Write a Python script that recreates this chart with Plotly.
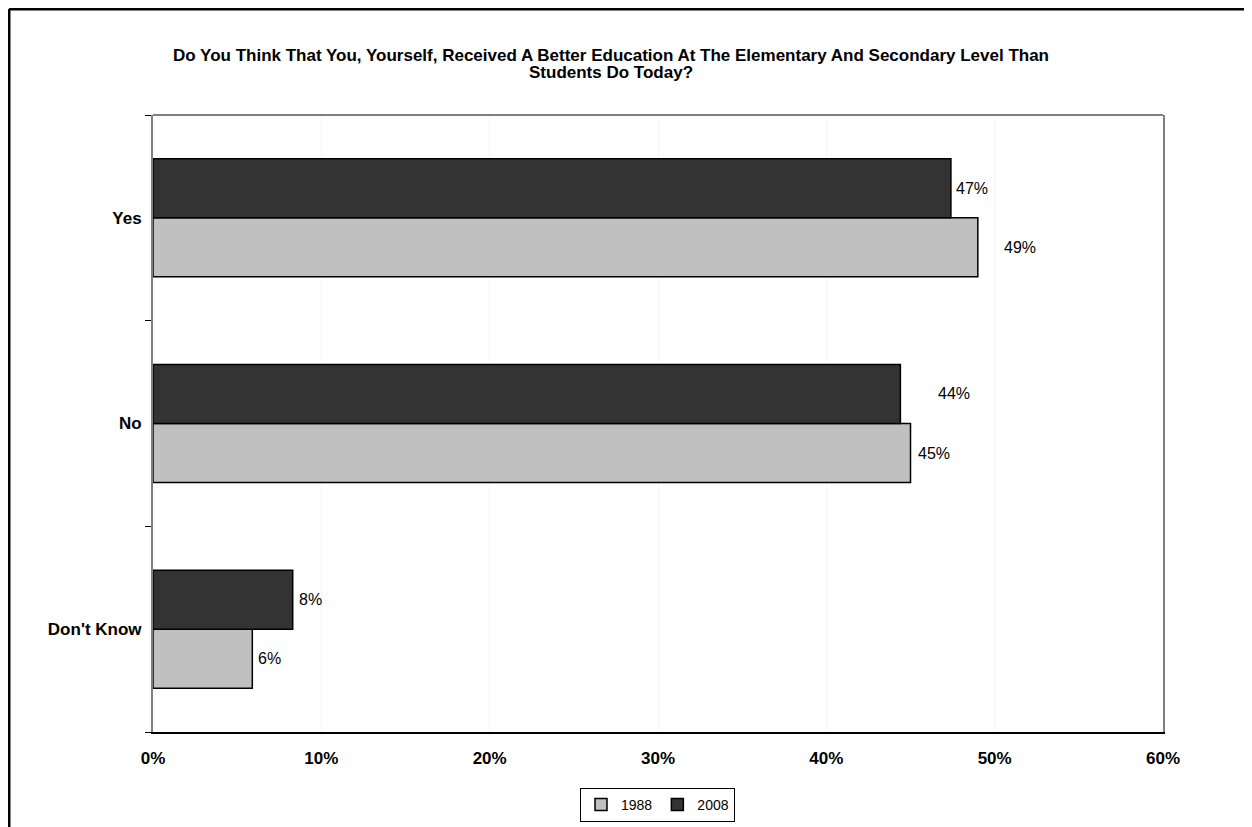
import plotly.graph_objects as go

categories = ["Don't Know", "No", "Yes"]
values_1988 = [5.9, 45.0, 49.0]
values_2008 = [8.3, 44.4, 47.4]
labels_1988 = ["6%", "45%", "49%"]
labels_2008 = ["8%", "44%", "47%"]
x_ticks = [0, 10, 20, 30, 40, 50, 60]
x_tick_labels = ["0%", "10%", "20%", "30%", "40%", "50%", "60%"]
title_lines = [
    "Do You Think That You, Yourself, Received A Better Education At The Elementary And Secondary Level Than",
    "Students Do Today?",
]
# pixel gap between bar end and its value label (style)
label_gap_1988 = [4, 5, 24]
label_gap_2008 = [4, 36, 3]

FONT = "Liberation Sans, Arial, sans-serif"

# figure sits inside an 8px page margin
W, H = 1244, 819
L, T = 145, 107
R, B = W - 1155, H - 724
pw, ph = W - L - R, H - T - B
bargap = 0.426
cat_px = ph / len(categories)
bar_off = cat_px * (1 - bargap) / 4  # centre offset of each bar in a pair

fig = go.Figure()
fig.add_trace(go.Bar(
    y=categories, x=values_1988, name="1988", orientation="h",
    marker=dict(color="#c0c0c0", line=dict(color="black", width=1.5)),
))
fig.add_trace(go.Bar(
    y=categories, x=values_2008, name="2008", orientation="h",
    marker=dict(color="#333333", line=dict(color="black", width=1.5)),
))

annotations = []
for cat, v, lab, g in zip(categories, values_1988, labels_1988, label_gap_1988):
    annotations.append(dict(x=v, y=cat, xref="x", yref="y", text=lab, showarrow=False,
                            xanchor="left", yanchor="middle", xshift=g, yshift=-bar_off,
                            font=dict(family=FONT, size=16, color="black")))
for cat, v, lab, g in zip(categories, values_2008, labels_2008, label_gap_2008):
    annotations.append(dict(x=v, y=cat, xref="x", yref="y", text=lab, showarrow=False,
                            xanchor="left", yanchor="middle", xshift=g, yshift=bar_off,
                            font=dict(family=FONT, size=16, color="black")))
title_y = [47, 65]
for line, ty in zip(title_lines, title_y):
    annotations.append(dict(x=(603 - L) / pw, y=(H - B - ty) / ph, xref="paper", yref="paper",
                            text=line, showarrow=False, xanchor="center", yanchor="middle",
                            font=dict(family=FONT, size=17, color="black", weight="bold")))

fig.update_layout(
    width=W, height=H,
    margin=dict(l=L, r=R, t=T, b=B, autoexpand=False),
    paper_bgcolor="white", plot_bgcolor="white",
    barmode="group", bargap=bargap, bargroupgap=0,
    font=dict(family=FONT, color="black"),
    xaxis=dict(
        range=[0, 60], tickvals=x_ticks, ticktext=x_tick_labels,
        showgrid=True, gridcolor="#f6f6f6", zeroline=False,
        showline=True, linecolor="black", linewidth=2,
        ticks="", tickfont=dict(family=FONT, size=17, color="black", weight="bold"),
        ticklabelstandoff=10,
    ),
    yaxis=dict(
        showline=True, linecolor="#808080", linewidth=2, mirror=True,
        ticks="outside", ticklen=6, tickcolor="black", tickwidth=1,
        tickson="boundaries", showgrid=False,
        tickfont=dict(family=FONT, size=17, color="black", weight="bold"),
        ticklabelstandoff=6,
    ),
    legend=dict(
        orientation="h", xref="container", yref="container",
        x=649.5 / W, xanchor="center", y=1 - 780 / H, yanchor="top",
        bordercolor="black", borderwidth=1,
        font=dict(family=FONT, size=14, color="black"),
        itemwidth=30, tracegroupgap=0,
    ),
    annotations=annotations,
    shapes=[
        dict(type="line", xref="paper", yref="paper", x0=0, x1=1, y0=1, y1=1,
             line=dict(color="#808080", width=2)),
        dict(type="line", xref="paper", yref="paper",
             x0=(1 - L) / pw, x1=(1 - L) / pw, y0=-(B + 10) / ph, y1=1 + (T - 1) / ph,
             line=dict(color="black", width=3)),
        dict(type="line", xref="paper", yref="paper",
             x0=(1 - L) / pw, x1=(W + 10 - L) / pw, y0=1 + (T - 1) / ph, y1=1 + (T - 1) / ph,
             line=dict(color="black", width=3)),
    ],
)

fig.write_html("out.html")
